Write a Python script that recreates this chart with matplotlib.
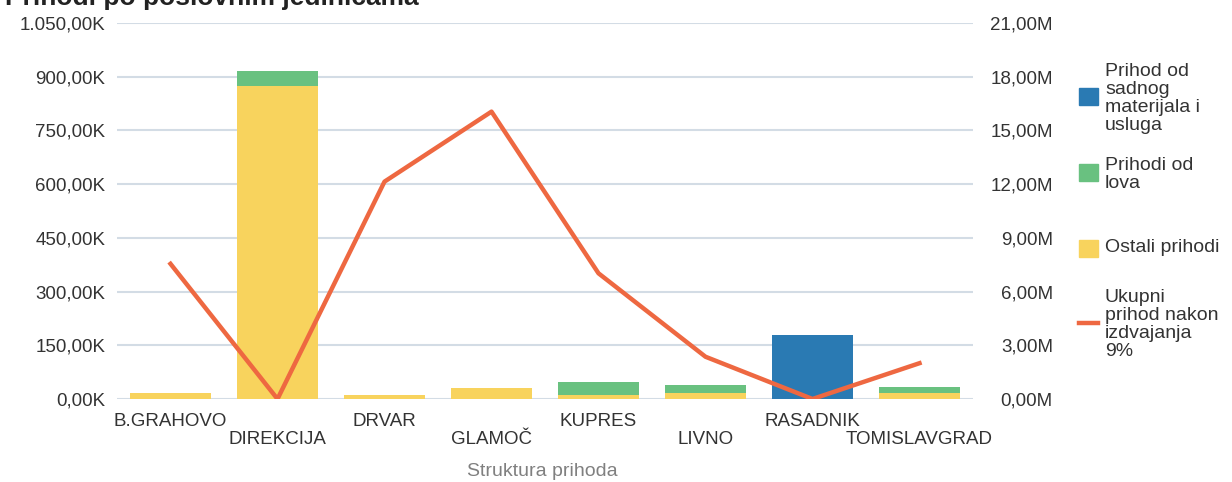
import numpy as np
import matplotlib
matplotlib.use('Agg')
import matplotlib.pyplot as plt
from matplotlib.ticker import FuncFormatter, MultipleLocator
from matplotlib.patches import Rectangle
from matplotlib.lines import Line2D

plt.rcParams['font.family'] = ['Liberation Sans', 'DejaVu Sans']

# ── data ──────────────────────────────────────────────────────────────────────
jedinice = ['B.GRAHOVO', 'DIREKCIJA', 'DRVAR', 'GLAMOČ',
            'KUPRES', 'LIVNO', 'RASADNIK', 'TOMISLAVGRAD']
ostali_prihodi = [16e3, 873e3, 11e3, 30e3, 10e3, 16e3, 0, 16e3]
prihodi_lov    = [0, 42e3, 0, 0, 38e3, 23e3, 0, 18e3]
prihod_sadni   = [0, 0, 0, 0, 0, 0, 179e3, 0]
ukupni_prihod  = [7.55e6, 0, 12.14e6, 16.05e6, 7.02e6, 2.36e6, 0, 2.0e6]

# ── colours ───────────────────────────────────────────────────────────────────
BLUE   = '#2a7ab3'
GREEN  = '#69c180'
YELLOW = '#f8d35d'
RED    = '#ee6841'
GRID   = '#d3dce5'
TXT    = '#333333'
MUTED  = '#808080'


def fmt_k(v, pos):
    s = f'{v / 1e3:,.2f}'
    s = s.replace(',', '#').replace('.', ',').replace('#', '.')
    return s + 'K'


def fmt_m(v, pos):
    return f'{v / 1e6:.2f}'.replace('.', ',') + 'M'


W, H = 1232, 482
fig = plt.figure(figsize=(W / 100, H / 100), dpi=100)
ax = fig.add_axes([117 / W, 1 - 399 / H, (973 - 117) / W, (399 - 23) / H])

x = np.arange(len(jedinice))
ost = np.array(ostali_prihodi)
lov = np.array(prihodi_lov)
sad = np.array(prihod_sadni)

ax.bar(x, ost, width=0.75, color=YELLOW, zorder=2)
ax.bar(x, lov, width=0.75, bottom=ost, color=GREEN, zorder=2)
ax.bar(x, sad, width=0.75, bottom=ost + lov, color=BLUE, zorder=2)

ax.set_xlim(-0.5, len(jedinice) - 0.5)
ax.set_ylim(0, 1050e3)
ax.yaxis.set_major_locator(MultipleLocator(150e3))
ax.yaxis.set_major_formatter(FuncFormatter(fmt_k))
ax.grid(True, axis='y', color=GRID, lw=1.5, zorder=0)
ax.set_axisbelow(True)
for sp in ax.spines.values():
    sp.set_visible(False)
ax.tick_params(axis='both', length=0, labelsize=13.5, colors=TXT)
ax.tick_params(axis='y', pad=8.5)

ax.set_xticks(x)
ax.set_xticklabels(jedinice)
for i, t in enumerate(ax.xaxis.get_major_ticks()):
    t.set_pad(10 if i % 2 == 0 else 23)

ax.set_xlabel('Struktura prihoda', fontsize=14, color=MUTED, va='center')
ax.xaxis.set_label_coords(0.497, -(471 - 399) / 376)

# ── right axis: line ─────────────────────────────────────────────────────────
ax2 = ax.twinx()
ax2.plot(x, ukupni_prihod, color=RED, lw=3.2, zorder=3)
ax2.set_ylim(0, 21e6)
ax2.yaxis.set_major_locator(MultipleLocator(3e6))
ax2.yaxis.set_major_formatter(FuncFormatter(fmt_m))
for sp in ax2.spines.values():
    sp.set_visible(False)
ax2.tick_params(axis='y', length=0, labelsize=13.5, colors=TXT, pad=57.5)
for lbl in ax2.get_yticklabels():
    lbl.set_ha('right')

# ── title (cut off at top as in the original) ────────────────────────────────
fig.text(5 / W, 1 - 5 / H, 'Prihodi po poslovnim jedinicama', fontsize=19,
         fontweight='bold', color='#222222', va='baseline', ha='left')

# ── legend drawn by hand ─────────────────────────────────────────────────────
legend_items = [
    ('sq', BLUE,   'Prihod od\nsadnog\nmaterijala i\nusluga', 96, 98.5),
    ('sq', GREEN,  'Prihodi od\nlova', 172, 174.5),
    ('sq', YELLOW, 'Ostali prihodi', 248, 248),
    ('ln', RED,    'Ukupni\nprihod nakon\nizdvajanja\n9%', 323, 324.5),
]
for kind, col, label, ym, yt in legend_items:
    if kind == 'sq':
        fig.add_artist(Rectangle((1079 / W, 1 - (ym + 8.5) / H), 19 / W, 17 / H,
                                 transform=fig.transFigure, color=col))
    else:
        fig.add_artist(Line2D([1079 / W, 1098 / W], [1 - ym / H, 1 - ym / H],
                              transform=fig.transFigure, color=col, lw=3.2))
    fig.text(1105 / W, 1 - yt / H, label, fontsize=14, color=TXT,
             va='center', ha='left', linespacing=1.07)

fig.savefig('out.png', dpi=100)
